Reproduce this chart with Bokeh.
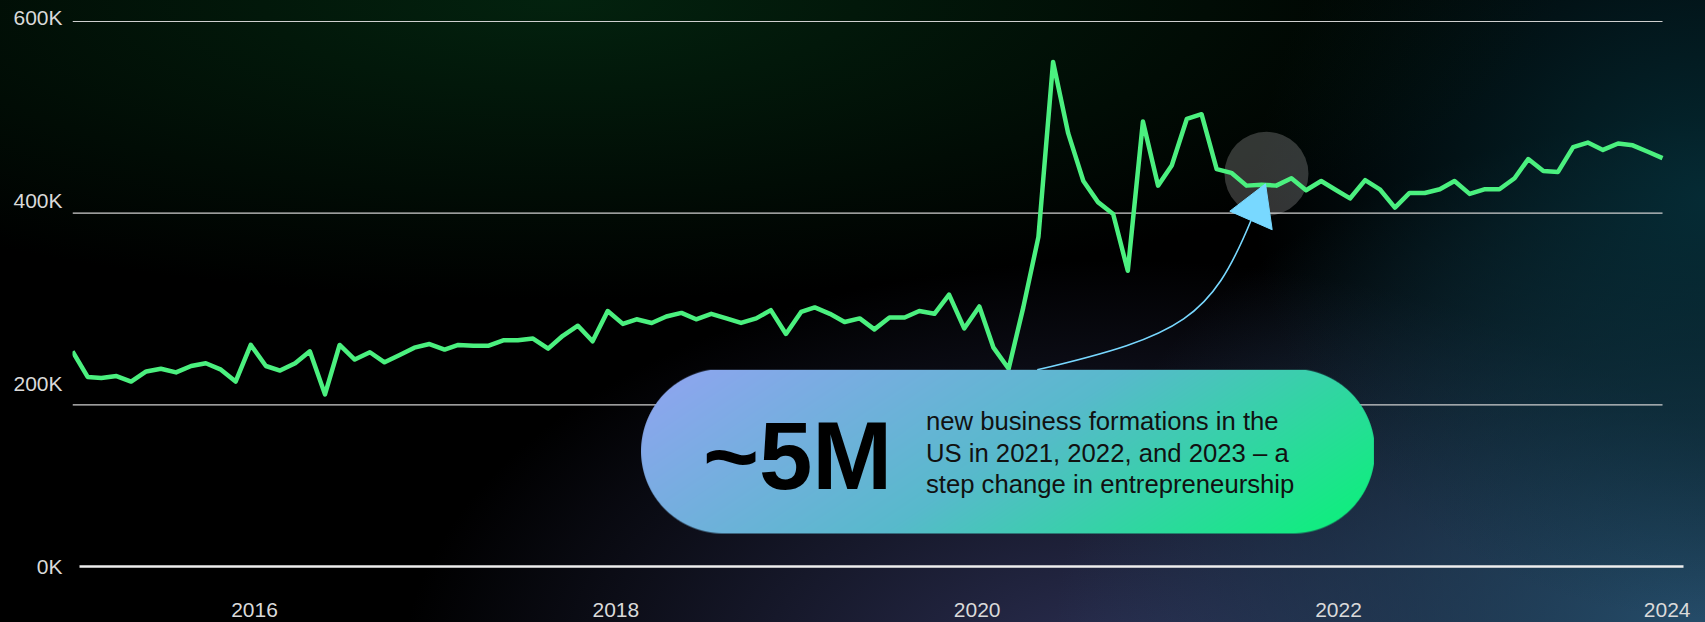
import numpy as np
import pandas as pd
from bokeh.plotting import figure
from bokeh.models import Range1d, LinearAxis, FixedTicker, ColumnDataSource
from bokeh.core.properties import value
from bokeh.embed import file_html
from bokeh.resources import INLINE

# ---------------- data ----------------
months = pd.date_range("2015-01-01", periods=108, freq="MS")
formations_k = [
    235, 207, 206, 208, 202, 213, 216, 212, 219, 222, 215, 202,
    242, 219, 214, 222, 235, 188, 242, 226, 234, 223, 231, 239,
    243, 237, 242, 241, 241, 247, 247, 249, 238, 252, 263, 246,
    279, 265, 270, 266, 273, 277, 270, 276, 271, 266, 271, 280,
    254, 278, 283, 276, 267, 271, 259, 272, 272, 279, 276, 297,
    260, 284, 239, 216, 283, 360, 551, 473, 421, 398, 385, 323,
    486, 416, 438, 489, 494, 434, 430, 416, 417, 416, 424, 411,
    421, 411, 402, 422, 412, 392, 408, 408, 412, 421, 407, 412,
    412, 424, 445, 432, 431, 458, 463, 455, 462, 460, 453, 446,
]
formations = [v * 1000 for v in formations_k]

y_ticks = [0, 200000, 400000, 600000]
y_tick_labels = ["0K", "200K", "400K", "600K"]
x_ticks = [2016, 2018, 2020, 2022, 2024]
x_tick_labels = ["2016", "2018", "2020", "2022", "2024"]
grid_values = [200000, 400000, 600000]

headline = "~5M"
caption_lines = [
    "new business formations in the",
    "US in 2021, 2022, and 2023 \u2013 a",
    "step change in entrepreneurship",
]

# ---------------- layout / style constants ----------------
T0 = pd.Timestamp("2015-01-01")


def day(d):
    """date (ms) a given number of days after T0"""
    return (T0 + pd.Timedelta(days=d)).value / 1e6


X_START = T0
X_END = pd.Timestamp("2024-02-27")
Y_RANGE = (0, 618200)
YEARS_RANGE = (2014.9926, 2024.0313)
GRID_RANGE = (31300, 621900)
BASELINE_BOUNDS = (2015.031, 2023.908)
LAST_LABEL_AT = 2023.819   # the last year label is pulled inside the right edge

LINE_GREEN = "#4BF07F"
ARROW_BLUE = "#78D8FF"
LABEL_COLOR = "#DADADA"
FONT = "Liberation Sans"

BG = (
    "radial-gradient(ellipse 1000px 300px at 560px 0px, rgba(3,36,15,0.95) 0%, rgba(3,36,15,0) 100%), "
    "radial-gradient(ellipse 450px 420px at 1705px 200px, rgba(5,46,56,0.9) 0%, rgba(5,46,56,0) 100%), "
    "radial-gradient(ellipse 650px 520px at 1705px 640px, rgba(38,78,108,1) 0%, rgba(38,78,108,0) 100%), "
    "radial-gradient(ellipse 720px 420px at 1120px 680px, rgba(44,48,84,1) 0%, rgba(44,48,84,0) 100%), "
    "#000000"
)

p = figure(
    width=1705, height=622, output_backend="svg", toolbar_location=None,
    x_axis_location=None, y_axis_location=None,
    x_range=Range1d(X_START, X_END), y_range=Range1d(*Y_RANGE),
    min_border_left=72, min_border_right=0, min_border_top=0, min_border_bottom=56,
    background_fill_color=None, border_fill_color=None, outline_line_color=None,
    styles={"background": BG},
)
for g in p.grid:
    g.visible = False

p.extra_x_ranges = {"years": Range1d(*YEARS_RANGE)}
p.extra_y_ranges = {"grid": Range1d(*GRID_RANGE)}

# x axis (year labels) with the white baseline
tick_positions = x_ticks[:-1] + [LAST_LABEL_AT]
xaxis = LinearAxis(
    x_range_name="years", ticker=FixedTicker(ticks=tick_positions),
    major_label_overrides=dict(zip(tick_positions, x_tick_labels)),
    bounds=BASELINE_BOUNDS,
    axis_line_color="#EEEEEE", axis_line_width=2.5,
    major_tick_line_color=None, minor_tick_line_color=None,
    major_tick_out=0, major_tick_in=0,
    major_label_standoff=36,
    major_label_text_font=FONT, major_label_text_font_size="21px",
    major_label_text_color=LABEL_COLOR,
)
p.add_layout(xaxis, "below")

yaxis = LinearAxis(
    ticker=FixedTicker(ticks=y_ticks),
    major_label_overrides=dict(zip(y_ticks, y_tick_labels)),
    axis_line_color=None, major_tick_line_color=None, minor_tick_line_color=None,
    major_tick_out=0, major_tick_in=0,
    major_label_standoff=10,
    major_label_text_font=FONT, major_label_text_font_size="21px",
    major_label_text_color=LABEL_COLOR,
)
p.add_layout(yaxis, "left")

# grid lines spanning the data
p.segment(x0=[months[0]] * 3, x1=[months[-1]] * 3, y0=grid_values, y1=grid_values,
          y_range_name="grid", line_color="#CFCFCF", line_width=1.2)

# highlight circle
p.scatter(x=[day(2445.0)], y=[428900], size=84, fill_color="white", fill_alpha=0.2, line_color=None)

# data line
src = ColumnDataSource(dict(month=months, formations=formations))
p.line("month", "formations", source=src, line_color=LINE_GREEN, line_width=4.5, line_join="round")

# arrow
p.bezier(x0=[day(1975.5)], y0=[214800], x1=[day(2413.3)], y1=[377900],
         cx0=[day(2274.2)], cy0=[252500], cx1=[day(2330.5)], cy1=[271200],
         line_color=ARROW_BLUE, line_width=1.6)
p.patch(x=[day(2443.0), day(2369.9), day(2456.7)], y=[418000, 388100, 367800],
        fill_color=ARROW_BLUE, line_color=ARROW_BLUE, line_width=1)

# gradient pill
PW, PH = 733, 164
yy, xx = np.mgrid[0:PH, 0:PW] + 0.5
r = PH / 2
dx = np.maximum(np.maximum(r - xx, xx - (PW - r)), 0)
dy = yy - PH / 2
alpha = np.clip(r - np.sqrt(dx ** 2 + dy ** 2) + 0.5, 0, 1)
t = ((xx + 1.5 * yy) / (PW + 1.5 * PH))[..., None]
stops = np.array([[146, 164, 242], [88, 186, 204], [8, 244, 118]], dtype=float)
col = np.where(t < 0.5, stops[0] + (stops[1] - stops[0]) * (t / 0.5),
               stops[1] + (stops[2] - stops[1]) * ((t - 0.5) / 0.5))
rgba = np.zeros((PH, PW, 4), dtype=np.uint8)
rgba[..., :3] = np.clip(col, 0, 255).astype(np.uint8)
rgba[..., 3] = (alpha * 255).astype(np.uint8)
img = np.ascontiguousarray(rgba[::-1]).view(np.uint32).reshape(PH, PW)
x_left, x_right = day(1164.2), day(2665.0)
p.image_rgba(image=[img], x=x_left, y=36040, dw=x_right - x_left, dh=214840 - 36040)

p.text(x=[day(1290.9)], y=[121500], text=[headline], text_font=value(FONT),
       text_font_size="96px", text_font_style="bold", text_color="#000000",
       text_baseline="middle", text_align="left")
p.text(x=[day(1747.6)] * 3, y=[159100, 123900, 89800], text=caption_lines,
       text_font=value(FONT), text_font_size="25.7px", text_color="#111111",
       text_baseline="middle", text_align="left")

open("out.html", "w").write(file_html(p, INLINE))
